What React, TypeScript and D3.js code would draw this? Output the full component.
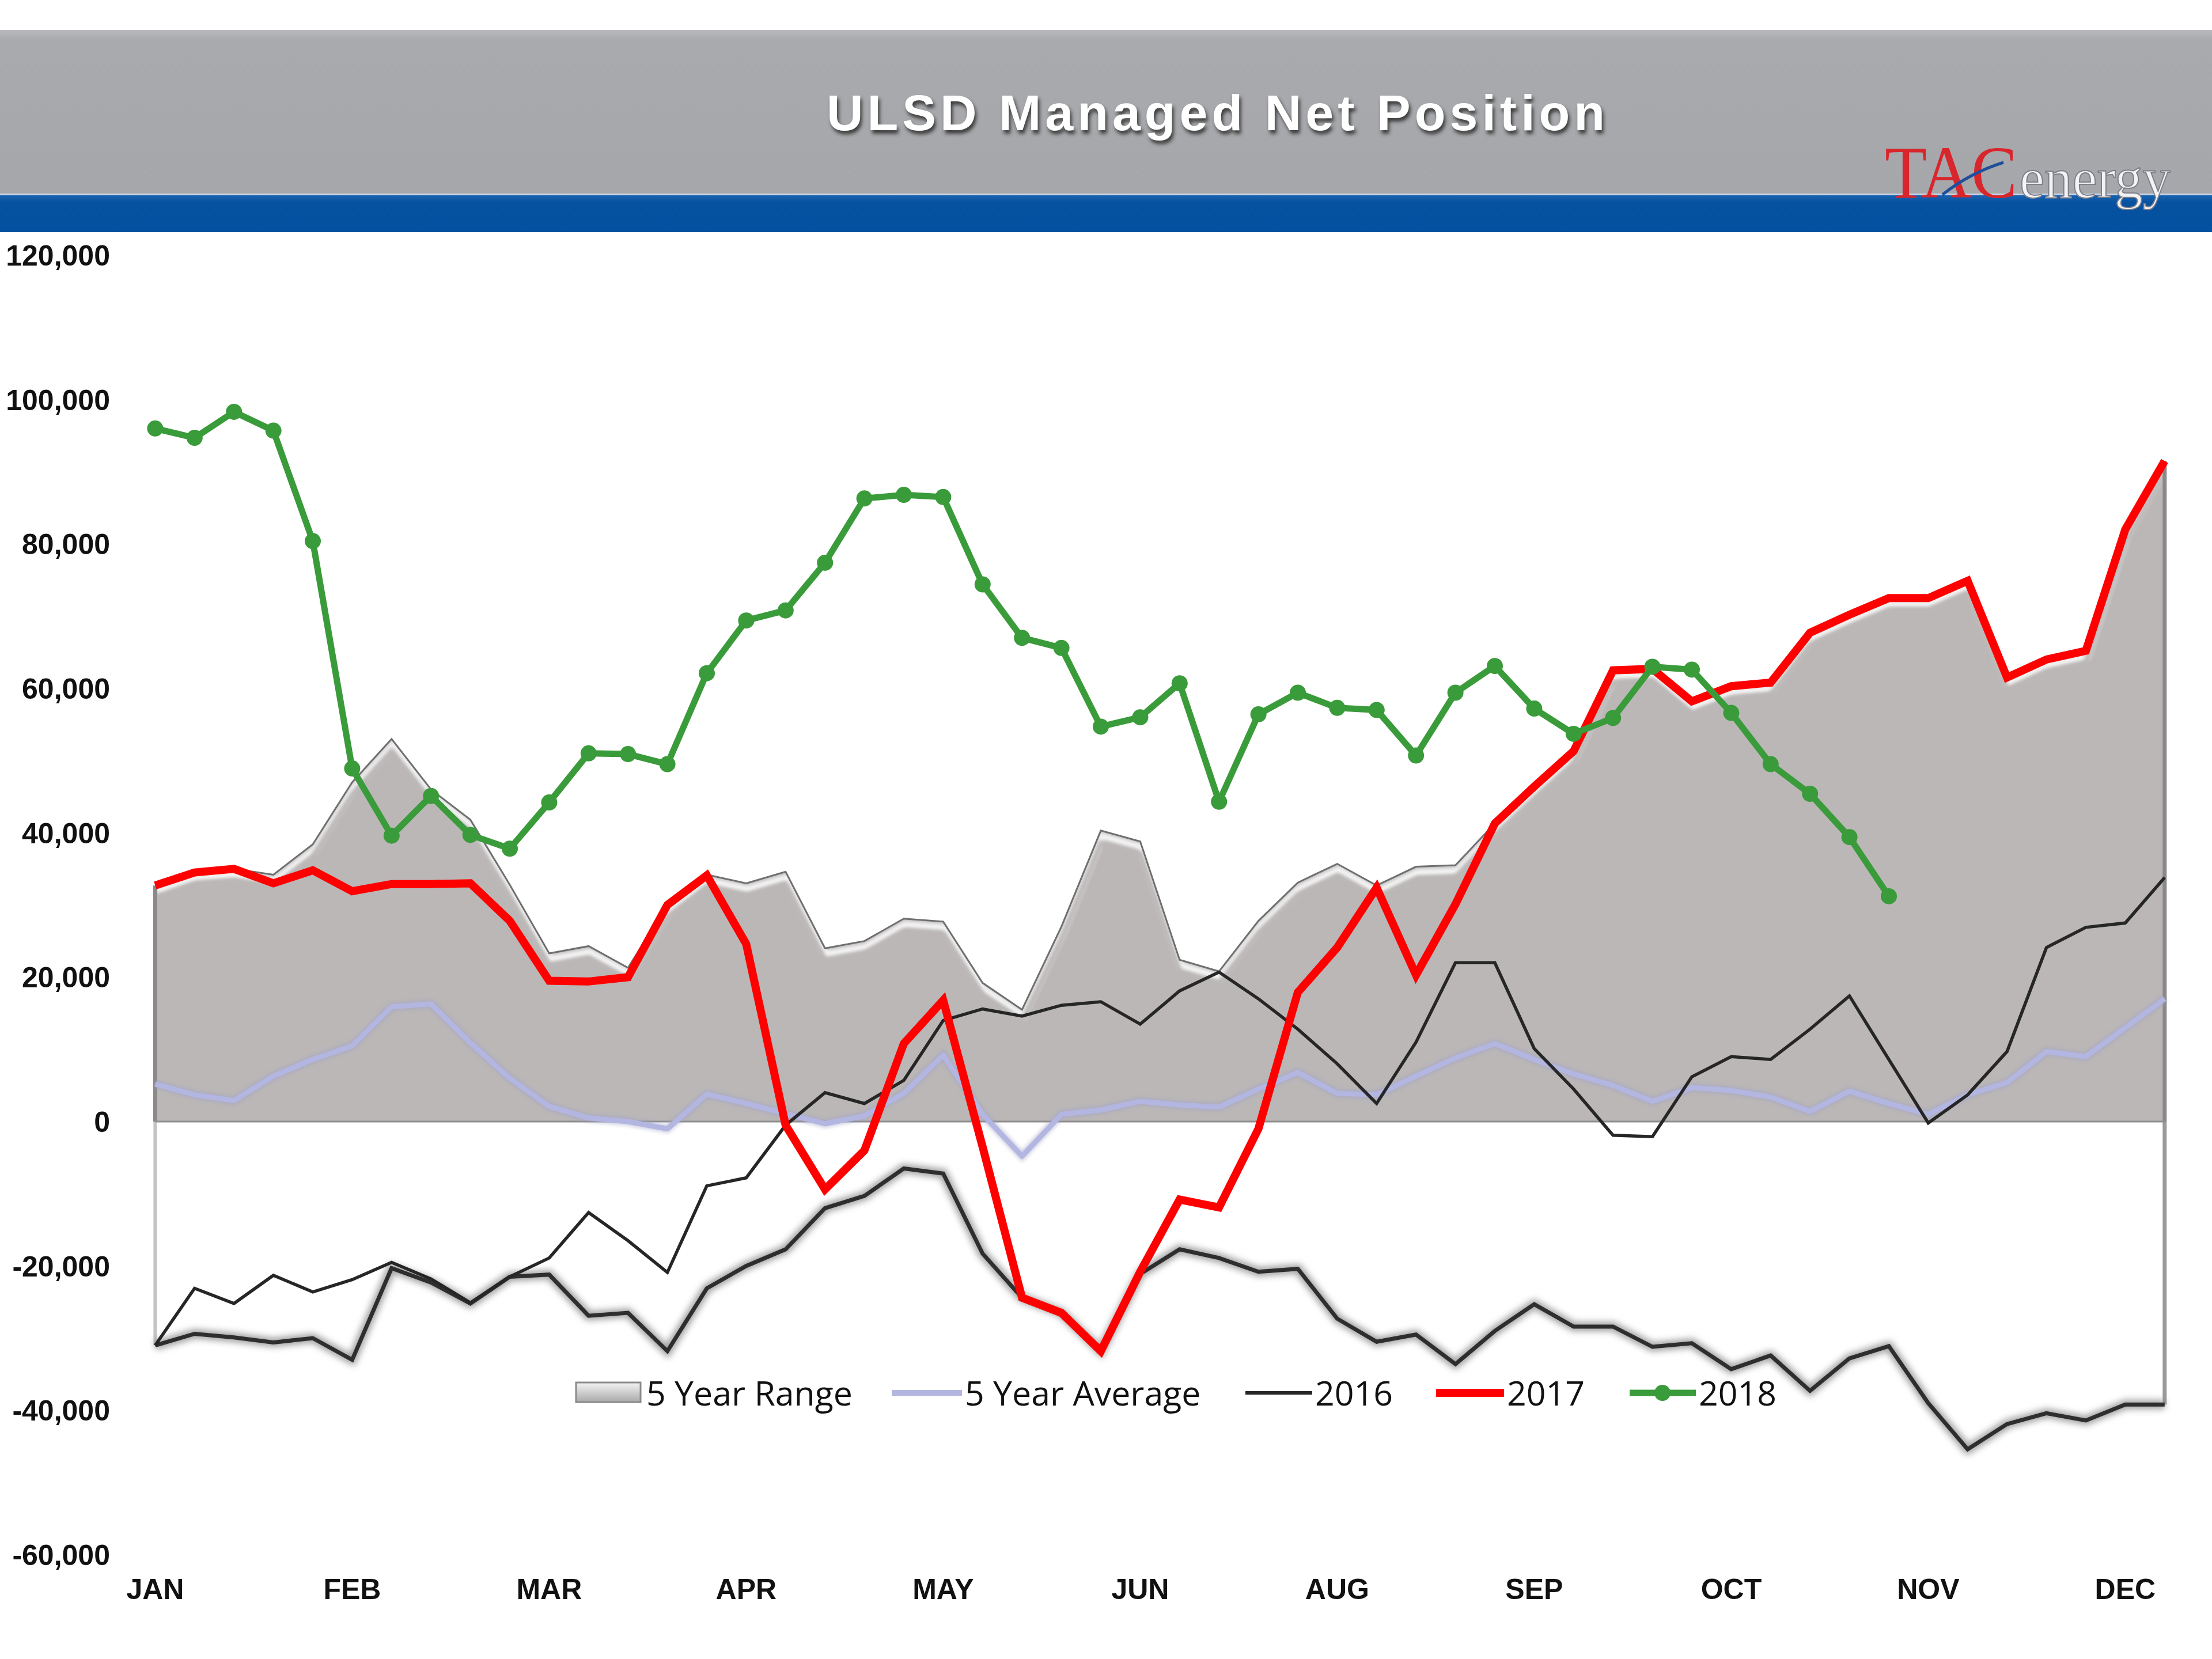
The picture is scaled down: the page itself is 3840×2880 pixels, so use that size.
import React from 'react';
import * as d3 from 'd3';

const months = ['JAN', 'FEB', 'MAR', 'APR', 'MAY', 'JUN', 'AUG', 'SEP', 'OCT', 'NOV', 'DEC'];
const yTicks = [-60000, -40000, -20000, 0, 20000, 40000, 60000, 80000, 100000, 120000];

const rangeMax = [32700, 34600, 35000, 34200, 38400, 47000, 53000, 46000, 41800, 32800, 23300, 24300, 21300, 30000, 34200, 33000, 34600, 24000, 25000, 28100, 27700, 19200, 15500, 27000, 40300, 38800, 22400, 20800, 27800, 33100, 35700, 32700, 35300, 35500, 41300, 46400, 51300, 62500, 62700, 58200, 60300, 60800, 67700, 70200, 72500, 72500, 74900, 61500, 64000, 65200, 82000, 91500];
const rangeMin = [-31000, -29400, -29900, -30600, -30000, -33000, -20300, -22300, -25200, -21500, -21200, -26900, -26500, -31800, -23100, -20000, -17700, -12000, -10300, -6500, -7200, -18300, -24400, -26500, -31800, -21100, -17700, -18900, -20800, -20400, -27300, -30500, -29500, -33600, -29000, -25300, -28400, -28400, -31200, -30700, -34300, -32400, -37300, -32800, -31100, -39000, -45400, -41900, -40400, -41400, -39200, -39200];
const avg5 = [5200, 3700, 2900, 6300, 8600, 10500, 15900, 16300, 10900, 6000, 2100, 500, 0, -1000, 3800, 2500, 1100, -300, 800, 3900, 9200, 1000, -4800, 1000, 1600, 2800, 2300, 2000, 4500, 6800, 3900, 3700, 6300, 8800, 10800, 8600, 6600, 5000, 2800, 4700, 4300, 3400, 1400, 4200, 2500, 1000, 3700, 5400, 9700, 9000, 13000, 17000];
const y2016 = [-31000, -23100, -25200, -21300, -23600, -21900, -19500, -21800, -25100, -21500, -18900, -12600, -16500, -20900, -8900, -7800, -500, 4000, 2500, 5700, 14000, 15600, 14600, 16100, 16600, 13500, 18100, 20700, 17000, 12800, 8000, 2500, 11000, 22000, 22000, 10100, 4500, -1900, -2100, 6200, 9000, 8600, 12800, 17400, 8600, -200, 3700, 9700, 24100, 26900, 27500, 33800];
const y2017 = [32700, 34500, 35000, 33000, 34800, 31900, 32900, 32900, 33000, 27800, 19500, 19400, 20000, 30000, 34100, 24600, -500, -9400, -4000, 10800, 16800, -3500, -24400, -26500, -31800, -20800, -10800, -11900, -1000, 17900, 24100, 32400, 20300, 30100, 41300, 46400, 51300, 62500, 62700, 58200, 60300, 60800, 67700, 70200, 72500, 72500, 74900, 61500, 64000, 65200, 82000, 91500];
const y2018 = [96000, 94700, 98300, 95700, 80400, 48900, 39600, 45100, 39700, 37800, 44200, 51000, 50900, 49500, 62100, 69400, 70800, 77400, 86300, 86800, 86500, 74400, 67000, 65600, 54700, 56000, 60700, 44300, 56400, 59400, 57300, 57000, 50700, 59400, 63100, 57200, 53700, 55900, 63000, 62600, 56600, 49500, 45400, 39400, 31200];

const legendItems = ['5 Year Range', '5 Year Average', '2016', '2017', '2018'];

export default function App() {
  const W = 3840;
  const H = 2880;
  const x = d3.scaleLinear().domain([0, 51]).range([269.4, 3757.8]);
  const y = d3.scaleLinear().domain([-60000, 120000]).range([2699, 443]);

  const line = d3.line<number>().x((_, i) => x(i)).y((d) => y(d));
  const areaUp = d3.area<number>().x((_, i) => x(i)).y0(y(0)).y1((d) => y(d));
  const areaDown = d3.area<number>().x((_, i) => x(i)).y0(y(0)).y1((d) => y(d));

  const fmt0 = d3.format(',');
  const fmt = (v: number) => fmt0(v).replace('\u2212', '-');
  const sans = 'Liberation Sans, Arial, sans-serif';
  const legendFont = 'Open Sans, sans-serif';

  const green = '#3a9b3a';
  const red = '#ff0000';
  const lav = '#b3b6e0';

  return (
    <svg width={W} height={H} viewBox={`0 0 ${W} ${H}`} style={{ position: 'absolute', left: 0, top: 0, display: 'block', background: '#fff' }}>
      <defs>
        <linearGradient id="hdr" x1="0" y1="0" x2="0" y2="1">
          <stop offset="0" stopColor="#b9babd" />
          <stop offset="0.06" stopColor="#a9aaad" />
          <stop offset="1" stopColor="#a6a7aa" />
        </linearGradient>
        <linearGradient id="blue" x1="0" y1="0" x2="0" y2="1">
          <stop offset="0" stopColor="#1d64b0" />
          <stop offset="0.2" stopColor="#0652a1" />
          <stop offset="1" stopColor="#03509f" />
        </linearGradient>
        <linearGradient id="sw" x1="0" y1="0" x2="0" y2="1">
          <stop offset="0" stopColor="#f4f4f4" />
          <stop offset="1" stopColor="#a9a9a9" />
        </linearGradient>
        <filter id="blur3" x="-10%" y="-10%" width="120%" height="120%">
          <feGaussianBlur stdDeviation="3" />
        </filter>
        <filter id="blur6" x="-10%" y="-10%" width="120%" height="120%">
          <feGaussianBlur stdDeviation="6" />
        </filter>
        <clipPath id="upClip">
          <path d={areaUp(rangeMax) || ''} />
        </clipPath>
      </defs>

      {/* header */}
      <rect x={0} y={52} width={W} height={286} fill="url(#hdr)" />
      <rect x={0} y={338} width={W} height={65} fill="url(#blue)" />
      <rect x={0} y={336} width={W} height={3} fill="#c9d4e4" />
      <text x={2114} y={226} textAnchor="middle" fontFamily={sans} fontWeight="bold" fontSize={88} letterSpacing={7} fill="#3a3a3a" filter="url(#blur3)" transform="translate(3,6)">ULSD Managed Net Position</text>
      <text x={2114} y={226} textAnchor="middle" fontFamily={sans} fontWeight="bold" fontSize={88} letterSpacing={7} fill="#ffffff">ULSD Managed Net Position</text>
      {/* logo */}
      <text x={3272} y={343} fontFamily="Liberation Serif, serif" fontSize={130} fill="#d8262c" textLength={230} lengthAdjust="spacingAndGlyphs">TAC</text>
      <path d="M3372,338 Q3420,300 3478,282" stroke="#1f4f9a" strokeWidth={5} fill="none" />
      <text x={3506} y={343} fontFamily="Liberation Serif, serif" fontSize={100} fill="#f3f3f5" stroke="#7d7f88" strokeWidth={2} textLength={262} lengthAdjust="spacingAndGlyphs">energy</text>

      {/* 5 year range: positive part */}
      <path d={areaUp(rangeMax) || ''} fill="#bbb7b7" />
      <g clipPath="url(#upClip)">
        <path d={line(rangeMax) || ''} transform="translate(2,10)" fill="none" stroke="#ffffff" strokeWidth={12} opacity={0.85} filter="url(#blur3)" />
        <path d={line(rangeMax) || ''} transform="translate(0,22)" fill="none" stroke="#bbb7b7" strokeWidth={10} filter="url(#blur3)" />
      </g>
      <path d={line(rangeMax) || ''} fill="none" stroke="#6f6f6f" strokeWidth={3} />
      <line x1={x(0)} x2={x(0)} y1={y(rangeMax[0])} y2={y(0)} stroke="#8a8888" strokeWidth={7} />
      <line x1={x(51)} x2={x(51)} y1={y(rangeMax[51])} y2={y(0)} stroke="#8a8888" strokeWidth={7} />
      {/* 5 year range: negative part (white) */}
      <path d={areaDown(rangeMin) || ''} fill="#ffffff" />
      <line x1={x(0)} x2={x(0)} y1={y(0)} y2={y(rangeMin[0])} stroke="#c4c4c4" strokeWidth={6} />
      <line x1={x(51)} x2={x(51)} y1={y(0)} y2={y(rangeMin[51])} stroke="#9a9a9a" strokeWidth={7} />
      <line x1={x(0)} x2={x(51)} y1={y(0)} y2={y(0)} stroke="#8f8d8d" strokeWidth={3} />
      <path d={line(rangeMin) || ''} fill="none" stroke="#8a8a8a" strokeWidth={16} filter="url(#blur6)" opacity={0.8} />
      <path d={line(rangeMin) || ''} fill="none" stroke="#2e2e2e" strokeWidth={7} />

      {/* 5 year average */}
      <path d={line(avg5) || ''} fill="none" stroke="#9c9fc7" strokeWidth={14} opacity={0.5} filter="url(#blur3)" />
      <path d={line(avg5) || ''} fill="none" stroke={lav} strokeWidth={9} strokeLinejoin="round" />
      {/* 2016 */}
      <path d={line(y2016) || ''} fill="none" stroke="#262626" strokeWidth={5.5} strokeLinejoin="miter" />
      {/* 2017 */}
      <path d={line(y2017) || ''} fill="none" stroke={red} strokeWidth={14} strokeLinejoin="miter" />
      {/* 2018 */}
      <path d={line(y2018) || ''} fill="none" stroke={green} strokeWidth={11} strokeLinejoin="round" />
      {y2018.map((d, i) => (
        <circle key={i} cx={x(i)} cy={y(d)} r={14} fill={green} />
      ))}

      {/* y axis labels */}
      {yTicks.map((t) => (
        <text key={t} x={191} y={y(t)} dy="0.36em" textAnchor="end" fontFamily={sans} fontWeight="bold" fontSize={50} fill="#111">{fmt(t)}</text>
      ))}
      {/* x axis labels */}
      {months.map((m, k) => (
        <text key={m} x={x(k * 5)} y={2776} textAnchor="middle" fontFamily={sans} fontWeight="bold" fontSize={50} fill="#111">{m}</text>
      ))}

      {/* legend */}
      <g>
        <rect x={1000} y={2400} width={112} height={34} fill="url(#sw)" stroke="#8a8a8a" strokeWidth={3} />
        <text x={1122} y={2440} fontFamily={legendFont} fontSize={59} fill="#111">{legendItems[0]}</text>
        <line x1={1548} x2={1670} y1={2418} y2={2418} stroke={lav} strokeWidth={10} />
        <text x={1675} y={2440} fontFamily={legendFont} fontSize={59} fill="#111">{legendItems[1]}</text>
        <line x1={2162} x2={2278} y1={2418} y2={2418} stroke="#262626" strokeWidth={6} />
        <text x={2283} y={2440} fontFamily={legendFont} fontSize={59} fill="#111">{legendItems[2]}</text>
        <line x1={2493} x2={2611} y1={2418} y2={2418} stroke={red} strokeWidth={14} />
        <text x={2616} y={2440} fontFamily={legendFont} fontSize={59} fill="#111">{legendItems[3]}</text>
        <line x1={2829} x2={2944} y1={2418} y2={2418} stroke={green} strokeWidth={11} />
        <circle cx={2886} cy={2418} r={14} fill={green} />
        <text x={2949} y={2440} fontFamily={legendFont} fontSize={59} fill="#111">{legendItems[4]}</text>
      </g>
    </svg>
  );
}
